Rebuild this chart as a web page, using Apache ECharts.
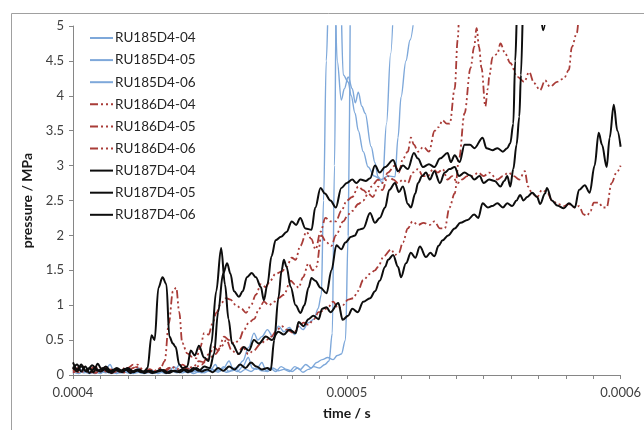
<!DOCTYPE html>
<html><head><meta charset="utf-8">
<script src="https://cdn.jsdelivr.net/npm/echarts@6/dist/echarts.min.js"></script>
<style>html,body{margin:0;padding:0;background:#fff}#c{width:644px;height:430px}</style>
</head><body><div id="c"></div>
<script>
// time in microseconds, pressure in MPa
const seriesNames = ['RU185D4-04','RU185D4-05','RU185D4-06','RU186D4-04','RU186D4-05','RU186D4-06','RU187D4-04','RU187D4-05','RU187D4-06'];
const xTickValues = [400, 500, 600];
const xTickLabels = ['0.0004', '0.0005', '0.0006'];

const ru185_04 = [[400,0.05],[402,0.02],[404,0.06],[406,0.03],[408,0.05],[410,0.02],[412,0.08],[413.5,0.15],[415,0.05],[417,0.03],[419,0.06],[421,0.02],[423,0.05],[425,0.03],[427,0.04],[429,0.02],[431,0.05],[433,0.03],[435,0.06],[437,0.12],[438.5,0.04],[440,0.03],[442,0.06],[444,0.02],[446,0.05],[448,0.03],[450,0.1],[452,0.05],[454,0.08],[456,0.04],[458,0.06],[460,0.1],[462,0.2],[464.2,0.4],[466.1,0.6],[467.5,0.5],[469,0.55],[471,0.65],[473,0.55],[475.1,0.7],[477,0.62],[479,0.68],[481,0.58],[482.4,0.7],[484,0.65],[486,0.75],[488,0.8],[489.5,0.95],[490.7,1.15],[491.5,2.5],[492.5,4.5],[493.5,5.6],[495.5,5.6],[496.5,4.5],[498,3.94],[499.1,4.1],[500.5,4.27],[502,4.1],[503.1,3.9],[504.2,4.05],[505.5,3.85],[506.7,3.75],[508.9,3.27],[510.3,3.04],[511.4,2.84],[513,2.75],[514.5,3.6],[516,4.6],[517.2,5.5]];
const ru185_05 = [[400,0.02],[402,0.08],[404,0.03],[406,0.05],[408,0.02],[410,0.06],[412,0.03],[414,0.05],[416,0.02],[418,0.07],[420,0.03],[422,0.05],[424,0.1],[425.5,0.04],[427,0.03],[429,0.06],[431,0.02],[433,0.05],[435,0.03],[437,0.06],[439,0.15],[440.5,0.05],[442,0.03],[444,0.06],[446,0.04],[448,0.08],[450,0.05],[452,0.15],[453.5,0.05],[455,0.1],[457,0.2],[458.5,0.08],[460,0.05],[462,0.12],[464,0.25],[465.5,0.1],[467,0.08],[469,0.18],[470.5,0.06],[472,0.1],[474,0.05],[476,0.12],[478,0.08],[480,0.05],[482,0.1],[484,0.04],[486,0.08],[488,0.12],[490,0.1],[492,0.15],[493.5,0.2],[494.7,0.6],[495.5,3.0],[496.2,5.6],[497.6,5.6],[498.7,4.3],[500.5,4.2],[501.6,4.0],[503,3.75],[504.2,3.5],[506,3.2],[507.8,2.98],[510,2.85],[512.5,2.8],[515,2.85],[517.6,2.84],[518.7,3.4],[519.8,3.98],[521.6,4.5],[523.1,4.8],[525,5.3]];
const ru185_06 = [[400,0.04],[402,0.1],[404,0.05],[406,0.02],[408,0.06],[410,0.03],[412,0.05],[414,0.02],[416,0.04],[418,0.03],[420,0.05],[422,0.02],[424,0.04],[426,0.02],[428,0.05],[430,0.03],[432,0.05],[434,0.02],[436,0.06],[438,0.03],[440,0.05],[442,0.1],[443.5,0.04],[445,0.06],[447,0.03],[449,0.05],[451,0.08],[453,0.04],[455,0.12],[457,0.05],[459,0.1],[461,0.04],[463,0.08],[465,0.05],[467,0.1],[469,0.06],[471,0.05],[473,0.1],[475,0.06],[477,0.08],[479,0.05],[481,0.12],[483,0.08],[485,0.15],[487,0.1],[489,0.18],[491,0.22],[493,0.25],[495,0.22],[496.5,0.28],[498,0.3],[499.5,0.5],[500.5,2.0],[501.3,5.5]];

const ru186_04 = [[400,0.05],[402,0.1],[404,0.04],[406,0.08],[408,0.12],[410,0.05],[412,0.08],[414,0.03],[416,0.06],[418,0.04],[420,0.1],[422,0.15],[424,0.08],[426,0.05],[428,0.08],[430,0.05],[432,0.1],[433.5,0.2],[435,0.74],[436.5,1.2],[437.7,1.25],[438.8,0.9],[439.9,0.46],[441.7,0.31],[443.5,0.26],[445,0.24],[446.5,0.4],[447.9,0.6],[449.5,0.58],[451,0.74],[452.3,0.89],[454.1,1.03],[455.9,1.1],[457.5,1.08],[459.5,1.0],[461.5,0.95],[463.2,0.89],[465,1.0],[466.8,1.15],[468.6,1.3],[470.4,1.26],[472,1.35],[474,1.45],[476.2,1.48],[478,1.55],[479.9,1.68],[481.3,1.65],[483,1.85],[485.3,2.05],[487,1.95],[488.6,1.8],[490.4,2.05],[492.2,2.25],[494,2.2],[496,2.2],[498,2.35],[500,2.5],[502,2.55],[504.2,2.7],[506,2.65],[507.5,2.6],[509,2.7],[511.4,2.8],[513,2.75],[515,2.9],[517.6,3.0],[519,2.9],[520.5,3.1],[522.3,3.2],[523.4,3.4],[524.5,3.3],[526,3.2],[528,3.27],[530,3.2],[532.1,3.5],[533.5,3.55],[535,3.65],[536.5,3.6],[537.6,3.6],[539.4,4.1],[540.5,4.8],[541.2,5.5]];
const ru186_05 = [[400,0.1],[402,0.04],[404,0.08],[406,0.03],[408,0.06],[410,0.1],[412,0.05],[414,0.08],[416,0.04],[418,0.1],[420,0.06],[422,0.05],[424,0.12],[426,0.06],[428,0.08],[430,0.05],[432,0.1],[434,0.06],[436,0.12],[438,0.08],[440,0.15],[442,0.1],[444,0.12],[446,0.2],[448,0.18],[450,0.25],[452,0.3],[454,0.4],[456,0.5],[458,0.35],[460,0.3],[462,0.4],[464,0.3],[466,0.35],[468.6,0.45],[470.5,0.5],[472.5,0.55],[474,0.62],[476.2,0.7],[478,0.65],[480.6,0.6],[482.5,0.7],[484.2,0.75],[486,0.72],[488,0.8],[489.7,0.9],[491.5,0.92],[493.3,0.98],[495,1.05],[496.9,0.95],[498.5,1.0],[500.5,1.08],[502.4,1.1],[504,1.2],[506,1.36],[508.5,1.45],[510.3,1.5],[511.4,1.55],[513.5,1.7],[516.2,1.8],[517.6,1.72],[519,1.75],[520.5,1.9],[522.3,2.1],[524,2.2],[526,2.15],[528,2.18],[530.3,2.15],[532,2.2],[534,2.1],[535.8,2.1],[537.5,2.4],[539.4,2.6],[541,3.1],[543,3.75],[545.2,4.4],[546.5,4.7],[547.4,4.97],[548.3,4.7],[549.2,4.4],[550.6,3.85],[551.5,4.1],[552.1,4.3],[553.2,4.55],[555,4.6],[556.1,4.75],[557.9,4.6],[559.7,4.47],[562.3,4.27],[564.8,4.2],[566.6,4.34],[568.4,4.18],[570.6,4.08],[572.4,4.22],[574.2,4.13],[576.8,4.2],[579.3,4.25],[581.1,4.37],[582.2,4.7],[584,4.9],[585,5.2],[586,5.5]];
const ru186_06 = [[400,0.03],[402,0.07],[404,0.12],[406,0.05],[408,0.03],[410,0.06],[412,0.1],[414,0.04],[416,0.07],[418,0.03],[420,0.05],[422,0.1],[423.5,0.15],[425,0.08],[427,0.05],[429,0.04],[431,0.08],[433,0.05],[435,0.1],[437,0.06],[439,0.05],[441,0.1],[443,0.08],[445,0.12],[447,0.15],[449.7,0.3],[451.5,0.4],[453,0.35],[455.2,0.55],[457,0.5],[459,0.45],[460.6,0.5],[462.5,0.65],[464.2,0.75],[466.1,0.8],[468,0.95],[469.7,1.05],[471.5,1.0],[473.5,1.05],[475.1,1.1],[477,1.15],[479.5,1.35],[481,1.3],[482.4,1.25],[484,1.4],[486,1.6],[487.5,1.5],[488.9,1.55],[490.7,2.0],[492.5,1.9],[494.4,1.85],[496,2.0],[498.7,2.2],[500.5,2.3],[502,2.35],[504.2,2.45],[506,2.5],[507.8,2.6],[509.5,2.55],[511.4,2.7],[513,2.65],[515,2.85],[517,2.8],[518.7,2.75],[520.5,2.8],[522.3,2.75],[524,2.9],[526,2.95],[527.8,2.85],[529.6,2.85],[531.5,2.95],[533.2,2.9],[535,2.95],[536.8,2.8],[538.5,2.85],[540.5,2.75],[542,2.8],[544,2.85],[546,2.85],[548,2.9],[550,2.85],[552,2.9],[555,2.8],[557,2.85],[559,2.9],[561,2.85],[563,2.8],[565,2.92],[566.2,2.7],[567.7,2.6],[569.5,2.55],[571.3,2.65],[573.1,2.62],[575,2.5],[577,2.45],[579.3,2.42],[581.1,2.45],[583.3,2.4],[584.8,2.42],[586.5,2.3],[587.7,2.28],[589,2.35],[590.2,2.47],[592,2.47],[593.5,2.4],[594.9,2.4],[596.7,2.75],[598.5,2.9],[600,3.0]];

const ru187_04 = [[400,0.12],[401.5,0.05],[403,0.15],[404.5,0.06],[406,0.1],[407.5,0.04],[409,0.16],[410.5,0.08],[412,0.12],[414,0.05],[416,0.1],[418,0.06],[420,0.08],[422,0.04],[424,0.07],[426,0.05],[427.2,0.1],[428.7,0.57],[429.8,0.5],[431.2,1.25],[432.7,1.4],[434.1,1.3],[435.2,0.55],[436.5,0.45],[437.5,0.4],[438.8,0.15],[440,0.1],[441.7,0.12],[443,0.35],[444.5,0.28],[446,0.42],[447.9,0.25],[449.5,0.2],[450.5,0.45],[452.3,1.2],[454.1,1.82],[455.5,1.3],[456.8,0.8],[458.1,0.45],[460.6,0.3],[462.4,0.4],[464.2,0.35],[466.1,0.5],[467.9,0.45],[470.4,0.55],[472.6,0.5],[475,0.62],[477,0.58],[479,0.65],[481.3,0.6],[482.4,0.76],[484.2,0.7],[486,0.8],[487.8,0.85],[489.7,0.8],[491,0.95],[492.6,0.97],[494,0.9],[496.9,1.03],[498.5,0.79],[500.5,0.85],[502,0.95],[504,0.9],[506,1.05],[508.5,1.1],[510.3,1.2],[512,1.35],[514,1.55],[515.1,1.65],[516.9,1.72],[518.7,1.55],[519.8,1.4],[521.6,1.6],[523.4,1.75],[525,1.68],[526.7,1.84],[528.9,1.69],[530.5,1.75],[532,1.7],[533.5,1.85],[535,1.93],[537,2.0],[539.4,2.1],[541.5,2.18],[544.1,2.22],[546.5,2.3],[548,2.25],[549.6,2.46],[551.5,2.4],[553,2.42],[555,2.46],[557,2.4],[558.6,2.46],[560.4,2.42],[562,2.5],[563.3,2.58],[564.5,2.5],[565.9,2.55],[567.7,2.61],[569.5,2.55],[570.6,2.45],[572.4,2.6],[573.1,2.68],[574.9,2.5],[576.8,2.43],[579.3,2.39],[581.1,2.46],[583.3,2.4],[584.8,2.65],[586.9,2.72],[588.7,2.61],[590.5,3.0],[592,3.47],[593.2,3.3],[594.9,2.98],[596,3.4],[597.5,3.87],[598.8,3.5],[600,3.27]];
const ru187_05 = [[400,0.08],[401.5,0.15],[403,0.05],[404.5,0.12],[406,0.03],[408,0.1],[410,0.05],[412,0.09],[414,0.03],[416,0.08],[418,0.04],[420,0.1],[422,0.05],[424,0.08],[426,0.03],[428,0.06],[430,0.04],[432,0.08],[434,0.03],[436,0.06],[438,0.05],[440,0.08],[442,0.04],[444,0.1],[446,0.06],[448,0.12],[450,0.1],[451.5,0.3],[453,0.9],[454.8,1.45],[456.3,1.6],[457.5,1.45],[458.8,1.2],[460.6,1.12],[462,1.2],[463.5,1.4],[465.3,1.46],[466.8,1.4],[468.6,1.26],[469.7,1.07],[471,1.3],[472.5,1.7],[474,1.93],[476,1.98],[478,2.05],[479.9,2.2],[481.5,2.15],[483,2.25],[484.9,2.1],[487.1,2.08],[488.5,2.4],[490.4,2.68],[492,2.6],[494,2.5],[496,2.4],[498,2.68],[500,2.75],[502,2.8],[503.5,2.75],[505,2.8],[507,2.78],[508.5,2.82],[510.3,3.0],[512,2.9],[514,2.98],[516.9,3.08],[518.7,2.92],[520.5,3.0],[522.3,2.95],[524.5,3.18],[526,3.1],[527.8,2.98],[530,3.02],[532,2.98],[534,3.1],[536.8,3.18],[538,3.05],[539.4,3.15],[541.2,3.05],[543,3.3],[545,3.3],[546.6,3.25],[549.6,3.4],[551,3.25],[553.2,3.22],[555,3.25],[557,3.2],[558.6,3.25],[559.7,3.32],[560.8,3.6],[561.5,4.5],[562.3,5.3],[565,6.0],[570,5.4],[571.7,4.94],[573.5,5.4]];
const ru187_06 = [[400,0.18],[401.5,0.08],[403,0.12],[405,0.05],[407,0.14],[409,0.06],[411,0.1],[413,0.04],[415,0.08],[417,0.05],[419,0.09],[421,0.03],[423,0.07],[425,0.04],[427,0.06],[429,0.03],[431,0.05],[433,0.07],[435,0.03],[437,0.06],[439,0.04],[441,0.08],[443,0.05],[445,0.1],[447,0.05],[449,0.08],[451,0.04],[453,0.1],[455,0.06],[457,0.12],[459,0.08],[461,0.15],[463,0.1],[465,0.18],[467,0.12],[469,0.08],[471,0.1],[472.2,0.07],[473.5,0.5],[475,1.1],[476.2,1.5],[477,1.65],[478,1.55],[479.5,1.26],[481.3,1.0],[483.1,0.89],[484.5,1.0],[486,1.25],[487.1,1.39],[488.5,1.35],[490.4,1.25],[492.6,1.17],[494.4,1.5],[496.2,1.86],[498,1.8],[499.5,1.9],[501.6,1.98],[503,2.0],[504.2,2.08],[506,2.1],[508.5,2.32],[510.3,2.18],[512,2.25],[514,2.4],[515.5,2.65],[517.6,2.75],[519,2.62],[520.5,2.7],[522.3,2.45],[523.4,2.4],[525,2.6],[526,2.75],[527.5,2.85],[528.9,2.9],[530.3,2.8],[532,2.92],[534,2.75],[535.8,2.9],[537.5,2.95],[539.4,2.98],[541,2.85],[543,2.9],[545,2.86],[546.6,2.8],[548.5,2.85],[550,2.75],[552,2.8],[554,2.78],[556.1,2.7],[557.5,2.78],[558.6,2.85],[559.7,2.7],[560.8,2.95],[562,3.3],[563,3.7],[563.6,4.3],[564.3,5.3]];

const seriesData = [ru185_04, ru185_05, ru185_06, ru186_04, ru186_05, ru186_06, ru187_04, ru187_05, ru187_06];

const BLUE = '#7ea8da', RED = '#a93c38', BLACK = '#0d0d0d';
const styleFor = i => i < 3 ? {color: BLUE, width: 1.4, type: 'solid'}
  : i < 6 ? {color: RED, width: 1.8, type: [8, 3, 2, 3, 2, 3]}
  : {color: BLACK, width: 2, type: 'solid'};

const chart = echarts.init(document.getElementById('c'), null, {renderer: 'canvas'});
const FONT = 'Lato, "Liberation Sans", sans-serif';
chart.setOption({
  animation: false,
  backgroundColor: '#fff',
  textStyle: {fontFamily: FONT},
  graphic: [{type: 'rect', shape: {x: 11.5, y: 13.5, width: 700, height: 500}, style: {fill: 'none', stroke: '#a0a0a0', lineWidth: 1}, silent: true}],
  grid: {left: 73, right: 20, top: 26, bottom: 55},
  legend: {
    orient: 'vertical', left: 89, top: 31, padding: 0,
    itemWidth: 23, itemHeight: 14, itemGap: 8.1,
    itemStyle: {opacity: 0},
    textStyle: {fontFamily: FONT, fontSize: 13.5, lineHeight: 14, color: '#262626', padding: [0, 0, 0, -3]},
    data: seriesNames
  },
  xAxis: {
    type: 'value', min: 400, max: 600, interval: 10,
    axisLine: {lineStyle: {color: '#868686'}},
    axisTick: {show: true, length: 4, lineStyle: {color: '#868686'}},
    splitLine: {show: false},
    axisLabel: {
      margin: 11, fontSize: 13, color: '#404040', fontFamily: FONT, showMaxLabel: true,
      formatter: v => { const k = xTickValues.indexOf(Math.round(v)); return k >= 0 ? xTickLabels[k] : ''; }
    },
    name: 'time / s', nameLocation: 'middle', nameGap: 31,
    nameTextStyle: {fontSize: 14, fontWeight: 'bold', color: '#1a1a1a', fontFamily: FONT}
  },
  yAxis: {
    type: 'value', min: 0, max: 5, interval: 0.5,
    axisLine: {show: true, lineStyle: {color: '#868686'}},
    axisTick: {show: true, length: 4, lineStyle: {color: '#868686'}},
    splitLine: {show: false},
    axisLabel: {margin: 9, fontSize: 13, color: '#404040', fontFamily: FONT},
    name: 'pressure / MPa', nameLocation: 'middle', nameGap: 30, nameRotate: 90,
    nameTextStyle: {fontSize: 14, fontWeight: 'bold', color: '#1a1a1a', fontFamily: FONT}
  },
  series: seriesData.map((d, i) => ({
    name: seriesNames[i], type: 'line', data: d,
    showSymbol: false, symbol: 'none', smooth: 0.35, smoothMonotone: 'x',
    clip: true, lineStyle: styleFor(i), itemStyle: {color: styleFor(i).color},
    emphasis: {disabled: true}
  }))
});
</script></body></html>
